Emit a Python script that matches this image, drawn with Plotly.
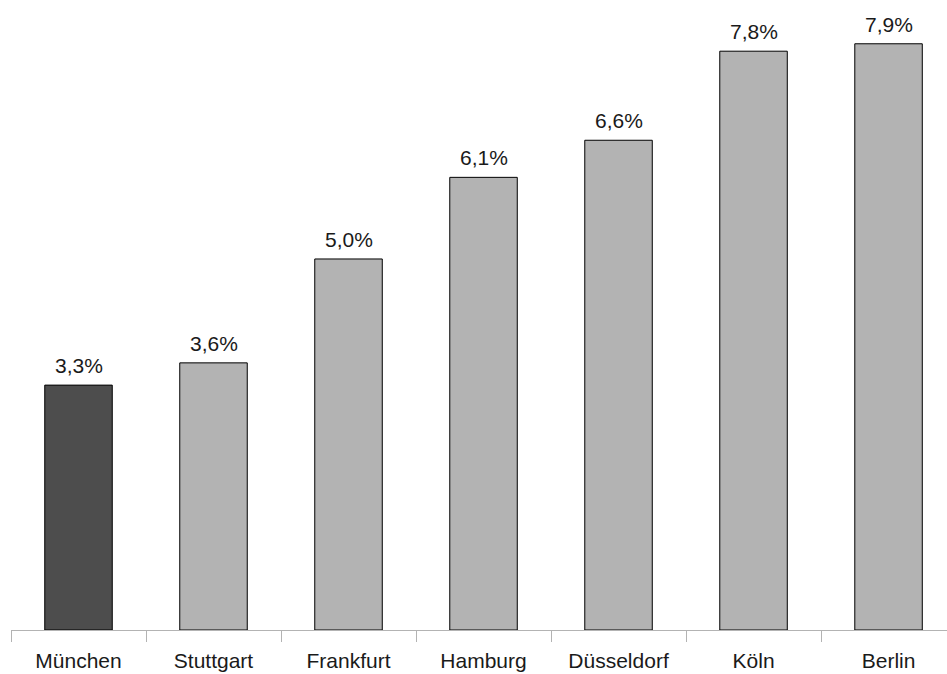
import plotly.graph_objects as go

cities = ["München", "Stuttgart", "Frankfurt", "Hamburg", "Düsseldorf", "Köln", "Berlin"]
values = [3.3, 3.6, 5.0, 6.1, 6.6, 7.8, 7.9]
colors = ["#4d4d4d"] + ["#b3b3b3"] * 6
labels = [f"{v:.1f}".replace(".", ",") + "%" for v in values]

FONT = "Liberation Sans, Arial"

fig = go.Figure()
fig.add_trace(go.Bar(
    x=cities, y=values, width=0.5,
    marker=dict(color=colors, line=dict(color="#000000", width=1)),
    hoverinfo="skip",
))
for c, v, t in zip(cities, values, labels):
    fig.add_annotation(x=c, y=v, text=t, showarrow=False, yanchor="bottom",
                       yshift=6, font=dict(family=FONT, size=21, color="#1a1a1a"))

fig.update_layout(
    width=947, height=674,
    margin=dict(l=11, r=0, t=0, b=44),
    plot_bgcolor="white", paper_bgcolor="white",
    showlegend=False,
    font=dict(family=FONT, size=21, color="#1a1a1a"),
    xaxis=dict(
        type="category", range=[-0.5, 6.433],
        showline=True, linecolor="#b3b3b3", linewidth=1,
        ticks="outside", tickson="boundaries", ticklen=11, tickcolor="#b3b3b3",
        ticklabelstandoff=12,
        showgrid=False, zeroline=False,
    ),
    yaxis=dict(range=[0, 8.49], visible=False, showgrid=False, zeroline=False),
)

fig.write_html("out.html")
